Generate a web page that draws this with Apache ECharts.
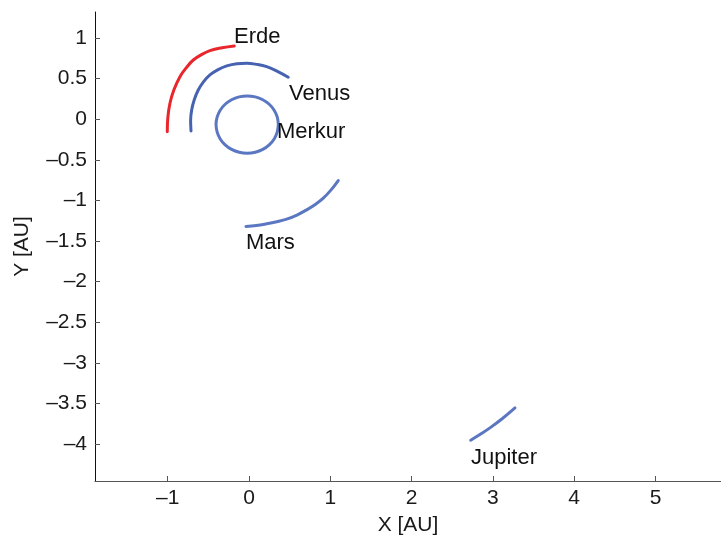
<!DOCTYPE html>
<html><head><meta charset="utf-8">
<script src="https://cdn.jsdelivr.net/npm/echarts@6/dist/echarts.min.js"></script>
<style>html,body{margin:0;padding:0;background:#fff}#c{width:721px;height:540px}</style>
</head><body><div id="c"></div>
<script>
// Orbit traces, [x, y] in AU
const erde = [[-1.005,-0.153],[-0.998,0.020],[-0.972,0.197],[-0.922,0.365],[-0.849,0.524],[-0.770,0.635],[-0.685,0.729],[-0.585,0.795],[-0.480,0.844],[-0.330,0.880],[-0.181,0.902]];
const venus = [[-0.713,-0.144],[-0.718,-0.015],[-0.705,0.114],[-0.673,0.240],[-0.624,0.360],[-0.560,0.460],[-0.480,0.545],[-0.380,0.610],[-0.274,0.656],[-0.150,0.683],[-0.028,0.689],[0.095,0.675],[0.218,0.647],[0.350,0.590],[0.483,0.517]];
const merkur = [[0.361,-0.066],[0.348,0.025],[0.310,0.111],[0.249,0.184],[0.170,0.240],[0.077,0.275],[-0.022,0.287],[-0.121,0.275],[-0.214,0.240],[-0.293,0.184],[-0.354,0.111],[-0.392,0.025],[-0.405,-0.066],[-0.392,-0.157],[-0.354,-0.243],[-0.293,-0.316],[-0.214,-0.372],[-0.121,-0.407],[-0.022,-0.419],[0.077,-0.407],[0.170,-0.372],[0.249,-0.316],[0.310,-0.243],[0.348,-0.157],[0.361,-0.066]];
const mars = [[-0.037,-1.321],[0.090,-1.310],[0.218,-1.288],[0.342,-1.262],[0.464,-1.230],[0.590,-1.180],[0.710,-1.116],[0.815,-1.050],[0.914,-0.972],[1.010,-0.870],[1.098,-0.755]];
const jupiter = [[2.727,-3.953],[2.845,-3.880],[2.964,-3.801],[3.118,-3.685],[3.272,-3.555]];
// Planet name labels and their anchor points (AU)
const labelNames = ['Erde','Venus','Merkur','Mars','Jupiter'];
const labelX = [-0.184, 0.492, 0.344, -0.037, 2.731];
const labelY = [1.015, 0.312, -0.152, -1.520, -4.170];
// Tick labels
const xTicks = [-1,0,1,2,3,4,5];
const yTicks = [-4,-3.5,-3,-2.5,-2,-1.5,-1,-0.5,0,0.5,1];

const FONT = 'Liberation Sans, Arial, Helvetica, sans-serif';
const fmt = v => String(v).replace('-', '\u2013');
const chart = echarts.init(document.getElementById('c'), null, {renderer:'canvas'});
const lineSeries = (name, data, color) => ({
  name, type:'line', data, smooth:0.4, showSymbol:false, symbol:'none',
  lineStyle:{color, width:3, cap:'round'}, z:3, animation:false
});
chart.setOption({
  animation:false,
  backgroundColor:'#fff',
  grid:{left:95, top:12, right:0, bottom:59, containLabel:false, outerBoundsMode:'none'},
  xAxis:{
    type:'value', min:-1.894, max:5.806,
    name:'X [AU]', nameLocation:'middle', nameGap:34,
    nameTextStyle:{fontFamily:FONT, fontSize:21, color:'#1a1a1a'},
    axisLine:{show:true, onZero:false, lineStyle:{color:'#555', width:1}},
    axisTick:{show:true, inside:true, length:5, customValues:xTicks, lineStyle:{color:'#555'}},
    axisLabel:{customValues:xTicks, formatter:fmt, fontFamily:FONT, fontSize:21, color:'#1a1a1a', margin:7},
    splitLine:{show:false}
  },
  yAxis:{
    type:'value', min:-4.455, max:1.320,
    name:'Y [AU]', nameLocation:'middle', nameGap:62, nameRotate:90,
    nameTextStyle:{fontFamily:FONT, fontSize:21, color:'#1a1a1a'},
    axisLine:{show:true, onZero:false, lineStyle:{color:'#111', width:1}},
    axisTick:{show:true, inside:true, length:5, customValues:yTicks, lineStyle:{color:'#555'}},
    axisLabel:{customValues:yTicks, formatter:fmt, fontFamily:FONT, fontSize:21, color:'#1a1a1a', margin:8},
    splitLine:{show:false}
  },
  series:[
    lineSeries('Erde', erde, '#e8262c'),
    lineSeries('Venus', venus, '#4862b2'),
    lineSeries('Merkur', merkur, '#5c77c2'),
    lineSeries('Mars', mars, '#5c77c2'),
    lineSeries('Jupiter', jupiter, '#5c77c2'),
    {
      type:'scatter', symbolSize:0, z:5, animation:false, silent:true,
      data: labelNames.map((n,i)=>({name:n, value:[labelX[i], labelY[i]]})),
      label:{show:true, position:'right', distance:0, formatter:p=>p.name,
        fontFamily:FONT, fontSize:22, color:'#111', opacity:1, textBorderWidth:0}
    }
  ]
});
</script></body></html>
